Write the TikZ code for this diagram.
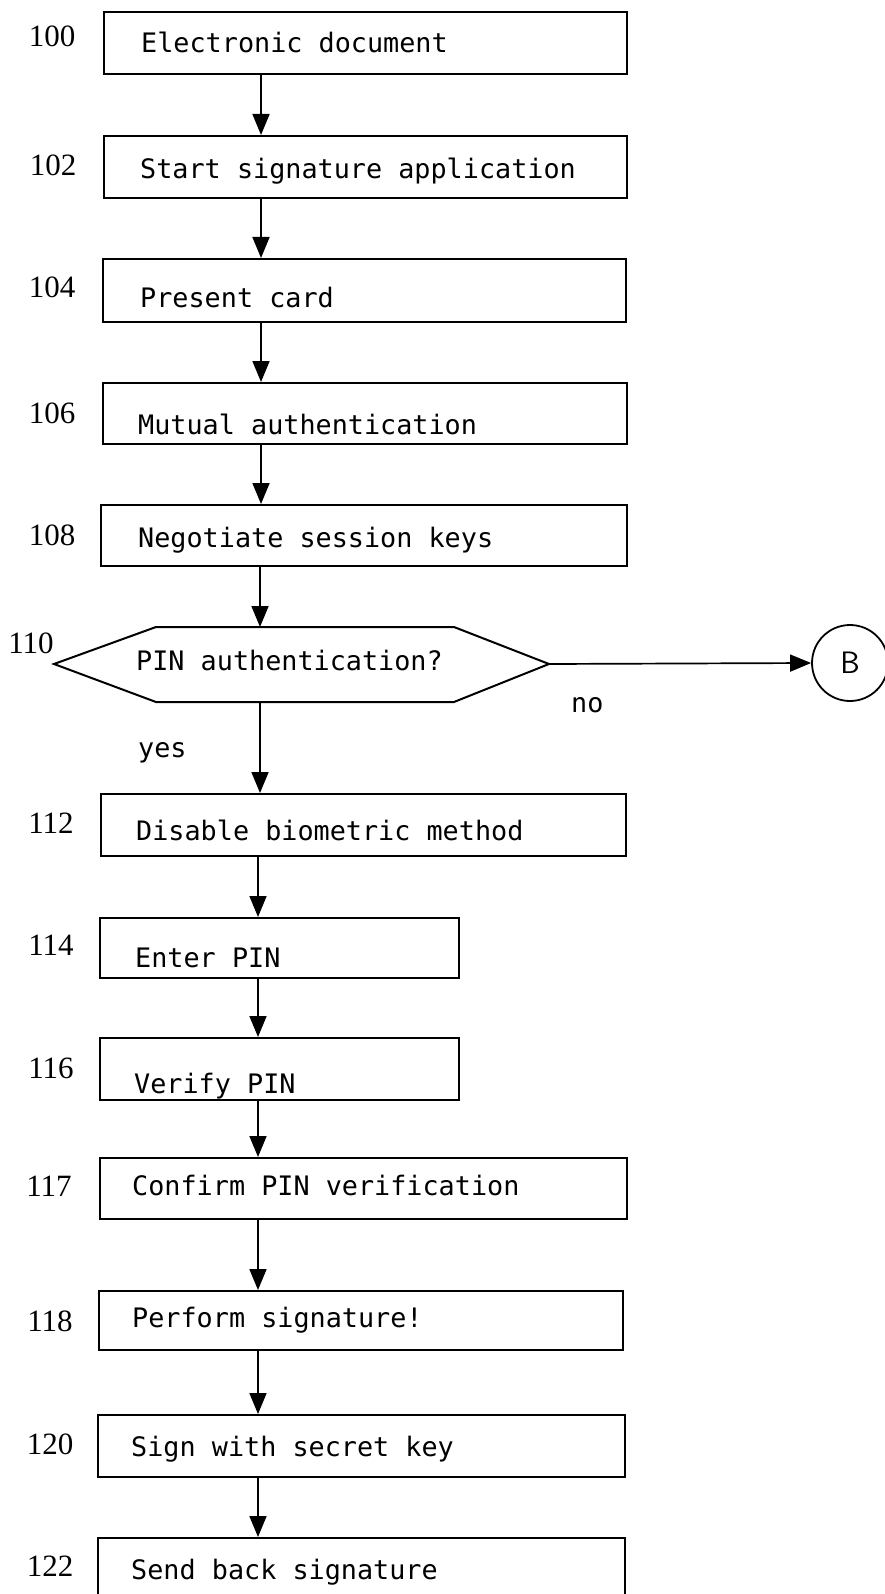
\documentclass[tikz,border=0pt]{standalone}
\usepackage{fontspec}
\setmainfont{Liberation Serif}
\setmonofont{DejaVu Sans Mono}
\usetikzlibrary{arrows.meta, positioning}

\tikzset{
  stepbox/.style={draw, line width=2pt, rectangle, anchor=north west, inner sep=0pt},
  steptext/.style={anchor=west, inner sep=0pt, text height=19.5pt, text depth=0pt,
    font=\ttfamily\fontsize{26.8}{29}\selectfont},
  steplabel/.style={inner sep=0pt, font=\fontsize{31}{33}\selectfont},
  flow/.style={line width=1.7pt, -{Triangle[length=21pt,width=17pt]}}
}

\begin{document}
\begin{tikzpicture}[x=1pt, y=-1pt]
  \useasboundingbox (0,0) rectangle (885,1594);

  % spine of the arrows
  \coordinate (spA) at (261,0);
  \coordinate (spB) at (258,0);

  % boxes
  \node[stepbox, minimum width=523pt, minimum height=62pt] (b100) at (103,11) {};
  \node[stepbox, minimum width=523pt, minimum height=62pt] (b102) at (103,135) {};
  \node[stepbox, minimum width=523pt, minimum height=63pt] (b104) at (102,258) {};
  \node[stepbox, minimum width=524pt, minimum height=61pt] (b106) at (102,382) {};
  \node[stepbox, minimum width=526pt, minimum height=61pt] (b108) at (100,504) {};
  \node[stepbox, minimum width=525pt, minimum height=62pt] (b112) at (100,793) {};
  \node[stepbox, minimum width=359pt, minimum height=60pt] (b114) at (99,917) {};
  \node[stepbox, minimum width=359pt, minimum height=62pt] (b116) at (99,1037) {};
  \node[stepbox, minimum width=527pt, minimum height=61pt] (b117) at (99,1157) {};
  \node[stepbox, minimum width=524pt, minimum height=59pt] (b118) at (98,1290) {};
  \node[stepbox, minimum width=527pt, minimum height=62pt] (b120) at (97,1414) {};
  \node[stepbox, minimum width=527pt, minimum height=70pt] (b122) at (97,1537) {};

  % decision 110
  \coordinate (hexL) at (54,664);
  \coordinate (hexR) at (549,664);
  \coordinate (hexT) at (260,627);
  \coordinate (hexB) at (260,702);
  \draw[line width=2pt] (hexL) -- (156,627) -- (454,627) -- (hexR)
    -- (454,702) -- (156,702) -- cycle;
  \node[draw, circle, line width=1.8pt, minimum size=76pt, inner sep=0pt,
    font=\sffamily\fontsize{31}{33}\selectfont] (conB) at (850,663) {B};

  % texts
  \node[steptext] (t100) at (141,43) {Electronic document};
  \node[steptext] (t102) at (140,169) {Start signature application};
  \node[steptext] (t104) at (140,298) {Present card};
  \node[steptext] (t106) at (138,425) {Mutual authentication};
  \node[steptext] (t108) at (138,538) {Negotiate session keys};
  \node[steptext] (t110) at (136,661) {PIN authentication?};
  \node[steptext] (t112) at (136,831) {Disable biometric method};
  \node[steptext] (t114) at (135,958) {Enter PIN};
  \node[steptext] (t116) at (134,1084) {Verify PIN};
  \node[steptext] (t117) at (132,1186) {Confirm PIN verification};
  \node[steptext] (t118) at (132,1318) {Perform signature!};
  \node[steptext] (t120) at (131,1447) {Sign with secret key};
  \node[steptext] (t122) at (131,1570) {Send back signature};
  \node[steptext] (tno) at (571,703) {no};
  \node[steptext] (tyes) at (138,748) {yes};

  % reference numerals
  \node[steplabel] (n100) at (52,36) {100};
  \node[steplabel] (n102) at (53,165) {102};
  \node[steplabel] (n104) at (52,287) {104};
  \node[steplabel] (n106) at (52,413) {106};
  \node[steplabel] (n108) at (52,535) {108};
  \node[steplabel] (n110) at (31,643) {110};
  \node[steplabel] (n112) at (51,823) {112};
  \node[steplabel] (n114) at (51,945) {114};
  \node[steplabel] (n116) at (51,1068) {116};
  \node[steplabel] (n117) at (49,1186) {117};
  \node[steplabel] (n118) at (50,1321) {118};
  \node[steplabel] (n120) at (50,1444) {120};
  \node[steplabel] (n122) at (50,1566) {122};

  % arrows
  \draw[flow] (b100.south -| spA) -- (b102.north -| spA);
  \draw[flow] (b102.south -| spA) -- (b104.north -| spA);
  \draw[flow] (b104.south -| spA) -- (b106.north -| spA);
  \draw[flow] (b106.south -| spA) -- (b108.north -| spA);
  \draw[flow] (b108.south -| hexT) -- (hexT);
  \draw[flow] (hexB) -- (b112.north -| hexB);
  \draw[flow] (hexR) -- (conB.west);
  \draw[flow] (b112.south -| spB) -- (b114.north -| spB);
  \draw[flow] (b114.south -| spB) -- (b116.north -| spB);
  \draw[flow] (b116.south -| spB) -- (b117.north -| spB);
  \draw[flow] (b117.south -| spB) -- (b118.north -| spB);
  \draw[flow] (b118.south -| spB) -- (b120.north -| spB);
  \draw[flow] (b120.south -| spB) -- (b122.north -| spB);
\end{tikzpicture}
\end{document}
